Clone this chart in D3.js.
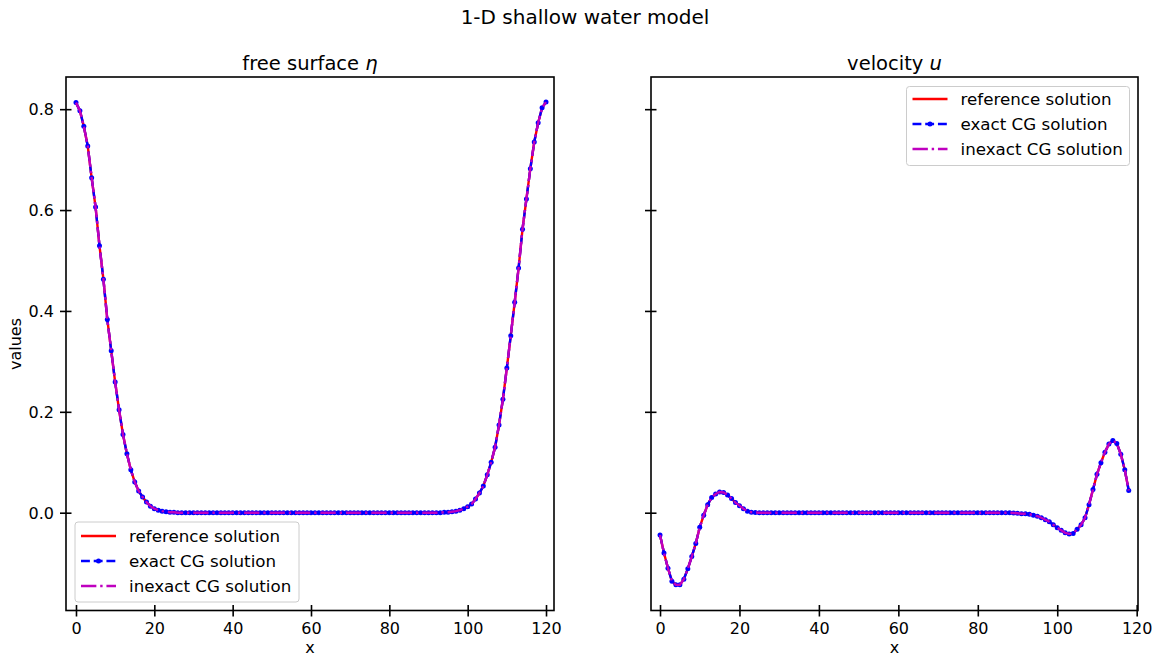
<!DOCTYPE html>
<html>
<head>
<meta charset="utf-8">
<script src="https://cdn.jsdelivr.net/npm/d3@7"></script>
<style>
  body { margin: 0; background: #fff; }
  text { font-family: "DejaVu Sans", sans-serif; fill: #000; }
</style>
</head>
<body>
<script>
// free surface eta, one value per grid point x = 0..120
var etaRef = [
  0.813, 0.797, 0.766, 0.727, 0.664, 0.606, 0.529, 0.463, 0.383, 0.321,
  0.259, 0.204, 0.155, 0.117, 0.085, 0.061, 0.043, 0.031, 0.021, 0.013,
  0.008, 0.005, 0.003, 0.002, 0.001, 0.001,
  0, 0, 0, 0, 0, 0, 0, 0, 0, 0,
  0, 0, 0, 0, 0, 0, 0, 0, 0, 0,
  0, 0, 0, 0, 0, 0, 0, 0, 0, 0,
  0, 0, 0, 0, 0, 0, 0, 0, 0, 0,
  0, 0, 0, 0, 0, 0, 0, 0, 0, 0,
  0, 0, 0, 0, 0, 0, 0, 0, 0, 0,
  0, 0, 0, 0, 0, 0, 0, 0,
  0.001, 0.001, 0.002, 0.003, 0.005, 0.008, 0.012, 0.017, 0.027, 0.039,
  0.053, 0.075, 0.100, 0.130, 0.174, 0.225, 0.287, 0.351, 0.417, 0.485,
  0.562, 0.622, 0.682, 0.735, 0.773, 0.803, 0.814
];

// velocity u, one value per grid point x = 0..118
var uRef = [
  -0.044, -0.080, -0.110, -0.136, -0.143, -0.143, -0.132, -0.111, -0.087, -0.061,
  -0.029, -0.005, 0.016, 0.030, 0.037, 0.041, 0.040, 0.035, 0.028, 0.020,
  0.014, 0.008, 0.003, 0.001, 0.0005,
  0, 0, 0, 0, 0, 0, 0, 0, 0, 0,
  0, 0, 0, 0, 0, 0, 0, 0, 0, 0,
  0, 0, 0, 0, 0, 0, 0, 0, 0, 0,
  0, 0, 0, 0, 0, 0, 0, 0, 0, 0,
  0, 0, 0, 0, 0, 0, 0, 0, 0, 0,
  0, 0, 0, 0, 0, 0, 0, 0, 0, 0,
  0, 0, 0, 0,
  -0.0005, -0.001, -0.002, -0.002, -0.003, -0.005, -0.007, -0.010, -0.014, -0.018,
  -0.024, -0.030, -0.035, -0.040, -0.042, -0.041, -0.033, -0.024, -0.010, 0.016,
  0.046, 0.076, 0.099, 0.120, 0.136, 0.143, 0.137, 0.116, 0.085, 0.044
];

// the CG solutions lie on top of the reference solution
var etaExact = etaRef.slice();
var etaInexact = etaRef.slice();
var uExact = uRef.slice();
var uInexact = uRef.slice();

var seriesNames = ["reference solution", "exact CG solution", "inexact CG solution"];
var xTicks = [0, 20, 40, 60, 80, 100, 120];
var yTicks = [0.0, 0.2, 0.4, 0.6, 0.8];

var W = 1160, H = 657;
var lw = 2.4;

var svg = d3.select("body").append("svg")
  .attr("width", W).attr("height", H);

svg.append("text")
  .attr("x", 585).attr("y", 24)
  .attr("text-anchor", "middle")
  .style("font-size", "20px")
  .text("1-D shallow water model");

var y = d3.scaleLinear().domain([-0.1939, 0.8638]).range([610.5, 77]);

function panel(opts) {
  var x = d3.scaleLinear().domain(opts.xdom).range([opts.x0, opts.x1]);
  var g = svg.append("g");
  var clipId = "clip" + opts.id;
  svg.append("clipPath").attr("id", clipId)
    .append("rect")
    .attr("x", opts.x0).attr("y", 77)
    .attr("width", opts.x1 - opts.x0).attr("height", 610.5 - 77);

  var line = d3.line()
    .x(function(d, i) { return x(i); })
    .y(function(d) { return y(d); });

  var plot = g.append("g").attr("clip-path", "url(#" + clipId + ")");

  // reference: red solid
  plot.append("path").datum(opts.ref)
    .attr("d", line).attr("fill", "none")
    .attr("stroke", "#ff0000").attr("stroke-width", lw);

  // exact CG: blue dashed with point markers
  plot.append("path").datum(opts.exact)
    .attr("d", line).attr("fill", "none")
    .attr("stroke", "#0000ff").attr("stroke-width", lw)
    .attr("stroke-dasharray", [3.7 * lw, 1.6 * lw].join(","));
  plot.selectAll("circle").data(opts.exact).enter()
    .append("circle")
    .attr("cx", function(d, i) { return x(i); })
    .attr("cy", function(d) { return y(d); })
    .attr("r", 2.5)
    .attr("fill", "#0000ff");

  // inexact CG: magenta dash-dot
  plot.append("path").datum(opts.inexact)
    .attr("d", line).attr("fill", "none")
    .attr("stroke", "#bf00bf").attr("stroke-width", lw)
    .attr("stroke-dasharray", [6.4 * lw, 1.6 * lw, 1 * lw, 1.6 * lw].join(","));

  // axes
  var xAxis = g.append("g")
    .attr("transform", "translate(0,610.5)")
    .call(d3.axisBottom(x).tickValues(xTicks).tickSize(6).tickFormat(d3.format("d")));
  xAxis.select(".domain").remove();
  xAxis.selectAll(".tick line").attr("y1", -5.5).attr("y2", 6)
    .attr("stroke", "#000").attr("stroke-width", 1.6);
  xAxis.selectAll(".tick text").attr("y", 23.5).attr("dy", null)
    .style("font-size", "16px").style("font-family", "DejaVu Sans").attr("fill", "#000");

  var yAxis = g.append("g")
    .attr("transform", "translate(" + opts.x0 + ",0)")
    .call(d3.axisLeft(y).tickValues(yTicks).tickSize(6)
      .tickFormat(opts.yLabels ? d3.format(".1f") : ""));
  yAxis.select(".domain").remove();
  yAxis.selectAll(".tick line").attr("x1", 5.5).attr("x2", -6)
    .attr("stroke", "#000").attr("stroke-width", 1.6);
  yAxis.selectAll(".tick text").attr("x", -12).attr("dy", "0.35em")
    .style("font-size", "16px").style("font-family", "DejaVu Sans").attr("fill", "#000");

  // frame
  g.append("rect")
    .attr("x", opts.x0).attr("y", 77)
    .attr("width", opts.x1 - opts.x0).attr("height", 610.5 - 77)
    .attr("fill", "none").attr("stroke", "#000").attr("stroke-width", 1.6);

  var cx = (opts.x0 + opts.x1) / 2;
  var t = g.append("text")
    .attr("x", cx).attr("y", 70)
    .attr("text-anchor", "middle")
    .style("font-size", "19.5px");
  t.append("tspan").text(opts.title + " ");
  t.append("tspan").style("font-style", "italic").text(opts.sym);

  g.append("text")
    .attr("x", cx).attr("y", 653)
    .attr("text-anchor", "middle")
    .style("font-size", "16px")
    .text("x");

  // legend
  var L = opts.legend;
  var lg = g.append("g");
  lg.append("rect")
    .attr("x", L.x).attr("y", L.y).attr("width", L.w).attr("height", L.h)
    .attr("rx", 3).attr("fill", "#fff").attr("fill-opacity", 0.8)
    .attr("stroke", "#cccccc").attr("stroke-width", 1);
  var styles = [
    { c: "#ff0000", dash: null, marker: false },
    { c: "#0000ff", dash: [3.7 * lw, 1.6 * lw].join(","), marker: true },
    { c: "#bf00bf", dash: [6.4 * lw, 1.6 * lw, 1 * lw, 1.6 * lw].join(","), marker: false }
  ];
  seriesNames.forEach(function(name, i) {
    var ry = L.y + L.first + i * 25;
    lg.append("line")
      .attr("x1", L.x + 6).attr("x2", L.x + 41)
      .attr("y1", ry).attr("y2", ry)
      .attr("stroke", styles[i].c).attr("stroke-width", lw)
      .attr("stroke-dasharray", styles[i].dash);
    if (styles[i].marker) {
      lg.append("circle").attr("cx", L.x + 23.5).attr("cy", ry)
        .attr("r", 2.5).attr("fill", styles[i].c);
    }
    lg.append("text")
      .attr("x", L.x + 54).attr("y", ry).attr("dy", "0.35em")
      .style("font-size", "16.7px")
      .text(name);
  });
}

panel({
  id: "L", x0: 66, x1: 554, xdom: [-2.55, 122.04],
  ref: etaRef, exact: etaExact, inexact: etaInexact,
  yLabels: true, title: "free surface", sym: "\u03b7",
  legend: { x: 75, y: 522, w: 224, h: 80, first: 14 }
});

panel({
  id: "R", x0: 651, x1: 1138, xdom: [-2.27, 120.33],
  ref: uRef, exact: uExact, inexact: uInexact,
  yLabels: false, title: "velocity", sym: "u",
  legend: { x: 906.5, y: 86.5, w: 223, h: 79, first: 12.5 }
});

svg.append("text")
  .attr("transform", "translate(21,344) rotate(-90)")
  .attr("text-anchor", "middle")
  .style("font-size", "16px")
  .text("values");
</script>
</body>
</html>
